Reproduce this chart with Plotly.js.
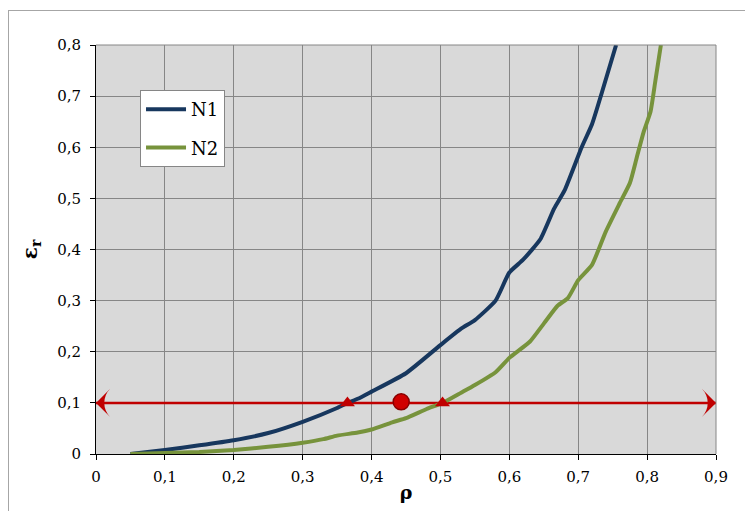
<!DOCTYPE html>
<html>
<head>
<meta charset="utf-8">
<script src="https://cdn.plot.ly/plotly-3.0.1.min.js"></script>
<style>
html,body{margin:0;padding:0;background:#fff;}
#frame{position:absolute;left:8px;top:10px;width:760px;height:520px;border-left:1px solid #a6a6a6;border-top:1px solid #a6a6a6;}
#chart{position:absolute;left:0;top:0;width:745px;height:511px;}
</style>
</head>
<body>
<div id="frame"></div>
<div id="chart"></div>
<script>
// N1 curve
var rhoN1 = [0.05,0.1,0.15,0.2,0.25,0.3,0.35,0.365,0.38,0.4,0.45,0.5,0.53,0.55,0.58,0.6,0.62,0.645,0.665,0.68,0.705,0.72,0.735,0.755];
var epsN1 = [0,0.008,0.017,0.027,0.041,0.063,0.09,0.1,0.108,0.122,0.158,0.213,0.245,0.262,0.3,0.355,0.38,0.42,0.48,0.515,0.6,0.645,0.71,0.8];
// N2 curve
var rhoN2 = [0.05,0.1,0.15,0.2,0.25,0.3,0.33,0.35,0.38,0.4,0.43,0.45,0.48,0.503,0.53,0.55,0.58,0.6,0.63,0.65,0.67,0.685,0.7,0.72,0.74,0.76,0.775,0.785,0.795,0.805,0.812,0.82];
var epsN2 = [0,0.002,0.004,0.008,0.014,0.022,0.029,0.036,0.042,0.048,0.062,0.07,0.088,0.1,0.12,0.135,0.16,0.188,0.22,0.255,0.29,0.305,0.34,0.37,0.435,0.49,0.53,0.58,0.63,0.67,0.73,0.8];
// reference line (arrow) at eps = 0.1
var arrowX = [0, 0.9];
var arrowY = [0.1, 0.1];
// intersection markers
var crossX = [0.365, 0.503];
var crossY = [0.1, 0.1];
// highlighted point
var pointX = [0.443];
var pointY = [0.102];
var xTicks = [0,0.1,0.2,0.3,0.4,0.5,0.6,0.7,0.8,0.9];
var yTicks = [0,0.1,0.2,0.3,0.4,0.5,0.6,0.7,0.8];

var red = '#c00000';
var serif = '"DejaVu Serif", serif';
var traces = [
  {x: arrowX, y: arrowY, mode: 'lines+markers', line: {color: red, width: 2.5},
   marker: {symbol: 'arrow-wide', size: 20, angle: [270, 90], color: red}, showlegend: false, hoverinfo: 'skip'},
  {x: rhoN1, y: epsN1, name: 'N1', mode: 'lines', line: {color: '#17375e', width: 4, shape: 'spline', smoothing: 0.5}, legendgroup: 'a'},
  {x: rhoN2, y: epsN2, name: 'N2', mode: 'lines', line: {color: '#77933c', width: 4, shape: 'spline', smoothing: 0.5}, legendgroup: 'b'},
  {x: crossX, y: crossY, mode: 'markers', marker: {symbol: 'triangle-up', size: 13, color: red}, showlegend: false},
  {x: pointX, y: pointY, mode: 'markers', marker: {symbol: 'circle', size: 16, color: '#d00000', line: {color: '#8a0000', width: 1.5}}, showlegend: false}
];

var font = {family: serif, color: '#000', size: 15};
var layout = {
  width: 745, height: 511,
  margin: {l: 96, r: 29, t: 45, b: 57, pad: 0},
  paper_bgcolor: 'rgba(0,0,0,0)',
  plot_bgcolor: '#d9d9d9',
  separators: ', ',
  font: font,
  showlegend: true,
  legend: {x: 0.071, y: 0.89, xanchor: 'left', yanchor: 'top', bgcolor: '#ffffff',
    bordercolor: '#868686', borderwidth: 1, font: {family: serif, size: 18, color: '#000'},
    tracegroupgap: 12, traceorder: 'grouped', itemwidth: 40},
  xaxis: {range: [0, 0.9], tickvals: xTicks, showgrid: true, gridcolor: '#868686', gridwidth: 1,
    zeroline: false, showline: true, linecolor: '#000', linewidth: 1, ticks: 'outside', ticklen: 5,
    tickcolor: '#000', tickfont: font, ticklabelstandoff: 4,
    title: {text: '<b>ρ</b>', font: {family: serif, size: 19, color: '#000'}, standoff: 0}},
  yaxis: {range: [0, 0.8], tickvals: yTicks, showgrid: true, gridcolor: '#868686', gridwidth: 1,
    zeroline: false, showline: true, linecolor: '#000', linewidth: 1, ticks: 'outside', ticklen: 5,
    tickcolor: '#000', tickfont: font, ticklabelstandoff: 6,
    title: {text: '<b>ε<sub>r</sub></b>', font: {family: serif, size: 20, color: '#000'}, standoff: 14}},
  shapes: [
    {type: 'line', xref: 'paper', yref: 'paper', x0: 1, x1: 1, y0: 0, y1: 1, line: {color: '#868686', width: 1}},
    {type: 'line', xref: 'paper', yref: 'paper', x0: 0, x1: 1, y0: 1, y1: 1, line: {color: '#868686', width: 1}}
  ]
};
Plotly.newPlot('chart', traces, layout, {displayModeBar: false, staticPlot: true});
</script>
</body>
</html>
